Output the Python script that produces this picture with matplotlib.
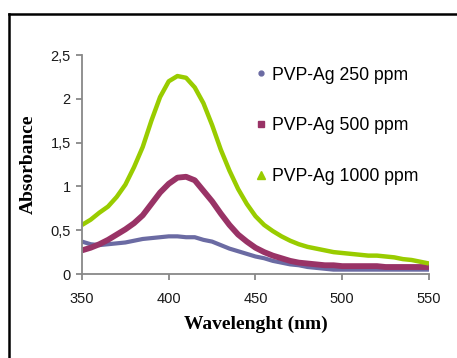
import matplotlib.pyplot as plt
from matplotlib.lines import Line2D
import numpy as np

# wavelength grid (nm) and absorbance
wavelength = list(range(350, 551, 5))
abs_250 = [0.37, 0.34, 0.33, 0.34, 0.35, 0.36, 0.38, 0.40, 0.41, 0.42, 0.43,
           0.43, 0.42, 0.42, 0.39, 0.37, 0.33, 0.29, 0.26, 0.23, 0.20, 0.18,
           0.15, 0.13, 0.11, 0.10, 0.08, 0.07, 0.06, 0.05, 0.05, 0.05, 0.05,
           0.05, 0.05, 0.05, 0.05, 0.05, 0.05, 0.05, 0.05]
abs_500 = [0.27, 0.30, 0.34, 0.39, 0.45, 0.51, 0.58, 0.67, 0.80, 0.93, 1.03,
           1.10, 1.11, 1.07, 0.95, 0.83, 0.69, 0.56, 0.45, 0.37, 0.30, 0.25,
           0.21, 0.18, 0.15, 0.13, 0.12, 0.11, 0.10, 0.10, 0.09, 0.09, 0.09,
           0.09, 0.09, 0.08, 0.08, 0.08, 0.08, 0.08, 0.08]
abs_1000 = [0.56, 0.62, 0.70, 0.77, 0.88, 1.02, 1.22, 1.45, 1.75, 2.02, 2.20,
            2.26, 2.24, 2.13, 1.95, 1.70, 1.42, 1.18, 0.97, 0.80, 0.66, 0.56,
            0.49, 0.43, 0.38, 0.34, 0.31, 0.29, 0.27, 0.25, 0.24, 0.23, 0.22,
            0.21, 0.21, 0.20, 0.19, 0.17, 0.16, 0.14, 0.12]
labels = ["PVP-Ag 250 ppm", "PVP-Ag 500 ppm", "PVP-Ag 1000 ppm"]

colors = ["#6b6ba3", "#993366", "#99cc00"]
widths = [3.0, 4.2, 3.2]

fig = plt.figure(figsize=(4.57, 3.58), dpi=100)
ax = fig.add_axes([0.1794, 0.2346, 0.7593, 0.6117])

for y, c, lw in zip([abs_250, abs_500, abs_1000], colors, widths):
    ax.plot(wavelength, y, color=c, lw=lw, solid_capstyle="butt")

ax.set_xlim(350, 550)
ax.set_ylim(0, 2.5)
ax.set_xticks([350, 400, 450, 500, 550])
ax.set_yticks([0, 0.5, 1, 1.5, 2, 2.5])
ax.set_yticklabels(["0", "0,5", "1", "1,5", "2", "2,5"])
for s in ["top", "right"]:
    ax.spines[s].set_visible(False)
for s in ["left", "bottom"]:
    ax.spines[s].set_color("#888888")
    ax.spines[s].set_linewidth(1.3)
ax.tick_params(axis="both", colors="#888888", width=1.3, length=4,
               labelcolor="#1a1a1a", labelsize=10.5)
ax.tick_params(axis="x", pad=9)
ax.tick_params(axis="y", pad=4)
for t in ax.get_xticklabels() + ax.get_yticklabels():
    t.set_family("Liberation Sans")

ax.set_xlabel("Wavelenght (nm)", family="Liberation Serif", weight="bold",
              fontsize=14, labelpad=7)
ax.set_ylabel("Absorbance", family="Liberation Serif", weight="bold",
              fontsize=14, labelpad=10)

handles = [
    Line2D([], [], ls="none", marker="o", ms=3.5, color=colors[0]),
    Line2D([], [], ls="none", marker="s", ms=5, color=colors[1]),
    Line2D([], [], ls="none", marker="^", ms=5.5, color=colors[2]),
]
ax.legend(handles, labels, loc="upper left", bbox_to_anchor=(0.455, 1.02),
          frameon=False, handlelength=0.6, handletextpad=0.3,
          labelspacing=1.92, prop={"family": "Liberation Sans", "size": 12.7})

# outer frame (left and top edges visible in the crop)
fig.add_artist(Line2D([0.0197, 0.0197], [-0.1, 0.961], color="black", lw=1.8))
fig.add_artist(Line2D([0.0197, 1.1], [0.961, 0.961], color="black", lw=1.8))

fig.savefig("out.png", dpi=100)
